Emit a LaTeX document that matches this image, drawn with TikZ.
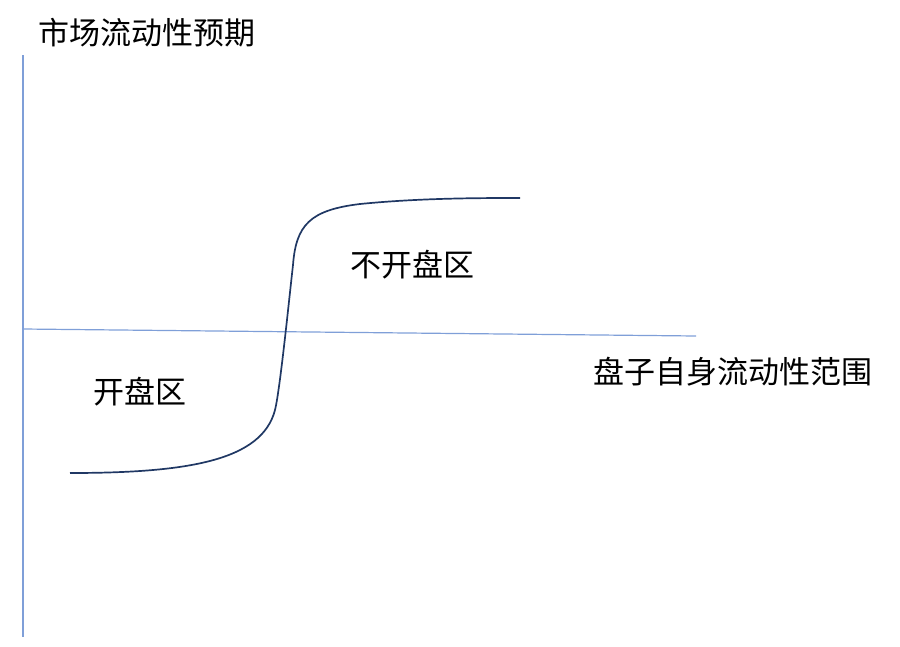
\documentclass[tikz,border=0pt]{standalone}
\usepackage{fontspec}
\newfontfamily\cjk{Noto Sans CJK SC}
\definecolor{axisblue}{HTML}{7F9FD8}
\definecolor{curvenavy}{HTML}{203864}
\tikzset{
  axis/.style={draw=axisblue, line width=1.2pt},
  lbl/.style={font=\cjk\fontsize{31}{36}\selectfont, inner sep=0pt}
}
\begin{document}
\begin{tikzpicture}[x=1pt,y=-1pt]
      \useasboundingbox (0,0) rectangle (900,646);
      \coordinate (yTop) at (23,55);
      \coordinate (yBot) at (23,637);
      \coordinate (xLeft) at (23,329);
      \coordinate (xRight) at (696,336);
      \draw[axis] (yTop) -- (yBot);
      \draw[axis] (xLeft) -- (xRight);
      
      \node[lbl] (ylabel) at (147,33) {市场流动性预期};
      \node[lbl] (xlabel) at (733,372) {盘子自身流动性范围};
      \node[lbl] (open) at (140,392) {开盘区};
      \node[lbl] (noopen) at (412,265) {不开盘区};
      
      \draw[curvenavy, line width=1.7pt] (70,473) .. controls (190,473) and (262,460) .. (275,410) .. controls (280,390) and (289,300) .. (293,265) .. controls (296,225) and (310,210) .. (360,204) .. controls (420,198) and (480,198) .. (520,198);
      
\end{tikzpicture}
\end{document}
